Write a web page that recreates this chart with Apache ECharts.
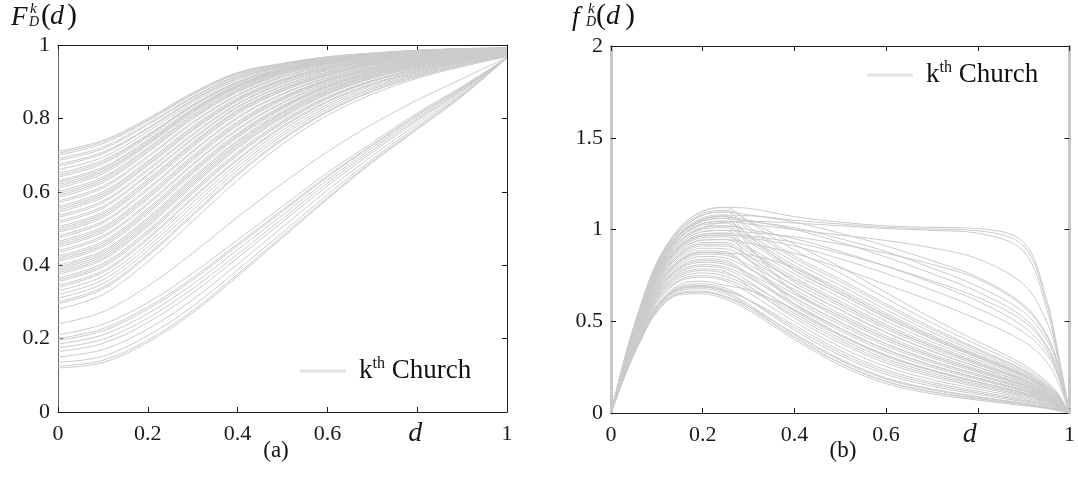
<!DOCTYPE html>
<html>
<head>
<meta charset="utf-8">
<script src="https://cdn.jsdelivr.net/npm/echarts@6/dist/echarts.min.js"></script>
<style>
  html, body { margin: 0; padding: 0; background: #fff; }
  #chart { width: 1078px; height: 477px; }
</style>
</head>
<body>
<div id="chart"></div>
<script>
// (a) cumulative curves, sampled at d = 0, 0.1 ... 1
const dA = [0, 0.1, 0.2, 0.3, 0.4, 0.5, 0.6, 0.7, 0.8, 0.9, 1];
const cdfCurves = [
  [.12, .135, .19, .27, .37, .475, .58, .68, .77, .86, .965],
  [.125, .141, .196, .276, .376, .48, .584, .683, .773, .862, .965],
  [.135, .152, .208, .288, .387, .489, .592, .689, .778, .865, .965],
  [.15, .17, .226, .306, .403, .504, .604, .698, .785, .869, .965],
  [.165, .187, .244, .324, .42, .518, .616, .707, .793, .874, .965],
  [.175, .198, .256, .336, .43, .527, .624, .713, .798, .877, .965],
  [.185, .21, .268, .348, .442, .537, .632, .719, .803, .88, .965],
  [.195, .221, .28, .36, .453, .546, .64, .725, .808, .883, .965],
  [.20, .227, .286, .366, .458, .551, .644, .728, .81, .884, .965],
  [.21, .239, .298, .378, .469, .56, .652, .734, .815, .887, .965],
  [.24, .273, .343, .433, .531, .623, .709, .784, .85, .908, .966],
  [.28, .32, .41, .52, .632, .73, .808, .866, .909, .941, .968],
  [.295, .335, .425, .535, .645, .741, .817, .873, .913, .944, .97],
  [.30, .34, .43, .54, .65, .745, .82, .875, .915, .945, .97],
  [.31, .35, .44, .55, .659, .753, .826, .88, .918, .947, .971],
  [.32, .36, .45, .56, .668, .76, .832, .884, .921, .949, .972],
  [.33, .37, .46, .57, .677, .768, .838, .889, .924, .951, .972],
  [.34, .38, .47, .58, .686, .775, .844, .893, .927, .953, .973],
  [.345, .385, .475, .585, .69, .779, .847, .895, .929, .954, .974],
  [.355, .395, .485, .595, .70, .786, .853, .90, .932, .955, .974],
  [.36, .40, .49, .60, .704, .79, .856, .902, .934, .956, .975],
  [.365, .405, .495, .605, .709, .794, .859, .904, .935, .957, .975],
  [.375, .415, .505, .615, .718, .801, .865, .909, .938, .959, .976],
  [.38, .42, .51, .62, .722, .805, .868, .911, .94, .96, .976],
  [.385, .425, .515, .625, .727, .809, .871, .913, .941, .961, .977],
  [.39, .43, .52, .63, .731, .813, .874, .916, .943, .962, .977],
  [.395, .435, .525, .635, .736, .816, .877, .918, .944, .963, .978],
  [.40, .44, .53, .64, .74, .82, .88, .92, .946, .964, .978],
  [.41, .45, .54, .649, .748, .826, .884, .923, .948, .965, .979],
  [.415, .455, .545, .654, .752, .829, .886, .924, .949, .966, .979],
  [.42, .46, .55, .658, .756, .832, .888, .926, .95, .967, .979],
  [.425, .465, .555, .663, .76, .835, .89, .927, .951, .968, .98],
  [.435, .475, .565, .672, .768, .841, .894, .93, .953, .969, .98],
  [.44, .48, .57, .676, .772, .844, .896, .931, .954, .97, .981],
  [.45, .49, .58, .685, .78, .85, .90, .934, .956, .971, .982],
  [.455, .495, .585, .69, .784, .853, .902, .935, .957, .972, .982],
  [.46, .50, .59, .694, .788, .856, .904, .937, .958, .972, .982],
  [.465, .505, .595, .699, .792, .859, .906, .938, .959, .973, .983],
  [.475, .515, .605, .708, .80, .865, .91, .941, .961, .975, .983],
  [.48, .52, .61, .712, .804, .868, .912, .942, .962, .975, .984],
  [.49, .53, .62, .721, .812, .874, .916, .945, .964, .977, .984],
  [.495, .535, .625, .726, .816, .877, .918, .947, .965, .977, .985],
  [.50, .54, .63, .73, .82, .88, .92, .948, .966, .978, .985],
  [.505, .545, .635, .734, .823, .882, .922, .949, .967, .978, .985],
  [.515, .555, .644, .742, .829, .887, .925, .951, .968, .979, .986],
  [.52, .56, .648, .746, .832, .889, .926, .952, .969, .98, .986],
  [.53, .57, .657, .754, .838, .894, .93, .954, .97, .98, .987],
  [.535, .575, .662, .758, .841, .896, .931, .955, .971, .981, .987],
  [.545, .585, .671, .766, .847, .90, .934, .957, .972, .982, .987],
  [.55, .59, .675, .77, .85, .903, .936, .958, .973, .982, .988],
  [.555, .595, .68, .774, .853, .905, .938, .959, .973, .982, .988],
  [.56, .60, .684, .778, .856, .907, .939, .96, .974, .983, .988],
  [.57, .61, .693, .786, .862, .912, .942, .962, .975, .984, .989],
  [.575, .615, .698, .79, .865, .914, .944, .963, .976, .984, .989],
  [.585, .625, .707, .798, .871, .918, .947, .965, .977, .985, .989],
  [.59, .63, .711, .802, .874, .921, .949, .966, .978, .985, .99],
  [.595, .635, .716, .806, .877, .923, .95, .967, .978, .986, .99],
  [.60, .64, .72, .81, .88, .925, .952, .968, .979, .986, .99],
  [.61, .649, .727, .815, .884, .927, .953, .969, .98, .986, .99],
  [.615, .654, .731, .818, .886, .928, .954, .969, .98, .987, .99],
  [.62, .658, .734, .821, .888, .93, .955, .97, .98, .987, .99],
  [.625, .663, .738, .824, .89, .931, .956, .97, .981, .987, .99],
  [.63, .667, .742, .826, .892, .932, .956, .971, .981, .987, .991],
  [.64, .676, .749, .832, .896, .934, .958, .972, .982, .987, .991],
  [.645, .681, .753, .835, .898, .935, .959, .972, .982, .988, .991],
  [.65, .686, .756, .837, .90, .936, .959, .973, .982, .988, .991],
  [.66, .694, .764, .843, .905, .939, .961, .973, .983, .988, .991],
  [.67, .704, .771, .848, .909, .941, .962, .974, .983, .989, .991],
  [.675, .708, .774, .851, .911, .942, .963, .975, .984, .989, .991],
  [.685, .717, .782, .856, .915, .944, .964, .976, .984, .989, .992],
  [.69, .722, .786, .859, .917, .946, .965, .976, .985, .989, .992],
  [.70, .731, .793, .865, .921, .948, .967, .977, .985, .99, .992],
  [.705, .736, .796, .867, .923, .949, .967, .978, .985, .99, .992],
  [.71, .74, .80, .87, .925, .95, .968, .978, .986, .99, .992]
];

// (b) density curves, sampled at uneven d steps
const dB = [0, 0.03, 0.06, 0.1, 0.15, 0.2, 0.25, 0.3, 0.4, 0.5, 0.6, 0.7, 0.8, 0.9, 0.95, 0.975, 1];
const pdfCurves = [
  [0, .20, .37, .55, .645, .65, .62, .56, .40, .26, .16, .105, .07, .04, .025, .012, 0],
  [0, .202, .374, .555, .652, .659, .63, .571, .413, .273, .172, .115, .078, .046, .029, .014, 0],
  [0, .203, .375, .558, .656, .664, .635, .582, .433, .294, .191, .131, .09, .054, .034, .018, 0],
  [0, .206, .381, .566, .667, .677, .65, .582, .413, .273, .172, .115, .078, .046, .029, .014, 0],
  [0, .208, .384, .572, .674, .686, .66, .593, .426, .287, .185, .126, .086, .051, .032, .017, 0],
  [0, .209, .386, .574, .678, .69, .665, .618, .478, .34, .234, .167, .118, .074, .047, .026, 0],
  [0, .21, .388, .577, .682, .695, .67, .615, .465, .327, .222, .157, .11, .068, .044, .024, 0],
  [0, .212, .392, .582, .689, .704, .68, .615, .452, .314, .21, .146, .102, .062, .04, .021, 0],
  [0, .215, .397, .59, .70, .718, .695, .67, .563, .428, .315, .234, .17, .11, .071, .042, 0],
  [0, .22, .406, .604, .718, .74, .72, .656, .498, .36, .253, .182, .13, .082, .053, .03, 0],
  [0, .222, .41, .609, .725, .749, .73, .676, .53, .394, .284, .208, .15, .096, .062, .036, 0],
  [0, .225, .415, .618, .736, .763, .745, .689, .543, .407, .296, .218, .158, .102, .066, .038, 0],
  [0, .228, .42, .626, .747, .776, .76, .706, .563, .428, .315, .234, .17, .11, .071, .042, 0],
  [0, .23, .424, .631, .755, .785, .77, .692, .517, .381, .272, .198, .142, .09, .058, .033, 0],
  [0, .233, .429, .639, .765, .799, .785, .717, .556, .421, .309, .229, .166, .107, .069, .04, 0],
  [0, .235, .433, .645, .773, .808, .795, .739, .595, .461, .346, .26, .19, .124, .081, .047, 0],
  [0, .238, .438, .653, .784, .821, .81, .761, .628, .495, .377, .285, .21, .138, .09, .053, 0],
  [0, .24, .442, .658, .791, .83, .82, .747, .582, .448, .334, .249, .182, .118, .077, .045, 0],
  [0, .242, .446, .663, .798, .839, .83, .758, .595, .461, .346, .26, .19, .124, .081, .047, 0],
  [0, .245, .451, .672, .809, .853, .845, .788, .647, .515, .396, .301, .222, .146, .095, .057, 0],
  [0, .248, .456, .68, .82, .866, .86, .808, .673, .541, .42, .321, .238, .158, .103, .062, 0],
  [0, .25, .46, .685, .828, .875, .87, .794, .628, .495, .377, .285, .21, .138, .09, .053, 0],
  [0, .25, .46, .685, .828, .875, .87, .863, .79, .662, .532, .414, .31, .208, .136, .083, 0],
  [0, .252, .464, .69, .835, .884, .88, .794, .615, .481, .365, .275, .202, .132, .086, .051, 0],
  [0, .255, .469, .699, .846, .898, .895, .835, .693, .562, .439, .337, .25, .166, .108, .065, 0],
  [0, .258, .474, .707, .857, .911, .91, .857, .725, .595, .47, .363, .27, .18, .118, .071, 0],
  [0, .26, .478, .712, .864, .92, .92, .835, .66, .528, .408, .311, .23, .152, .099, .059, 0],
  [0, .262, .482, .717, .871, .929, .93, .854, .693, .562, .439, .337, .25, .166, .108, .065, 0],
  [0, .265, .487, .726, .882, .943, .945, .876, .725, .595, .47, .363, .27, .18, .118, .071, 0],
  [0, .268, .492, .734, .893, .956, .96, .89, .738, .608, .482, .373, .278, .186, .121, .073, 0],
  [0, .27, .496, .739, .901, .965, .97, .904, .758, .629, .501, .388, .29, .194, .127, .077, 0],
  [0, .272, .50, .744, .908, .974, .98, .84, .595, .461, .346, .26, .19, .124, .081, .047, 0],
  [0, .275, .505, .753, .919, .988, .995, .898, .712, .582, .458, .352, .262, .174, .114, .069, 0],
  [0, .278, .51, .761, .93, 1.001, 1.01, .934, .777, .649, .52, .404, .302, .202, .132, .08, 0],
  [0, .28, .514, .766, .937, 1.01, 1.02, .945, .79, .662, .532, .414, .31, .208, .136, .083, 0],
  [0, .283, .519, .774, .948, 1.024, 1.035, .959, .803, .675, .544, .424, .318, .214, .14, .085, 0],
  [0, .285, .523, .78, .955, 1.033, 1.045, .973, .823, .696, .563, .44, .33, .222, .145, .089, 0],
  [0, .288, .528, .788, .966, 1.046, 1.06, .912, .66, .528, .408, .311, .23, .152, .099, .059, 0],
  [0, .29, .532, .793, .974, 1.055, 1.07, .967, .777, .649, .52, .404, .302, .202, .132, .08, 0],
  [0, .292, .536, .798, .981, 1.064, 1.08, 1.0, .842, .716, .582, .455, .342, .23, .151, .092, 0],
  [0, .295, .541, .807, .992, 1.078, 1.095, 1.014, .855, .729, .594, .466, .35, .236, .155, .095, 0],
  [0, .297, .545, .812, .999, 1.087, 1.105, 1.047, .92, .796, .656, .517, .39, .264, .173, .106, 0],
  [0, .30, .55, .82, 1.01, 1.10, 1.12, 1.041, .888, .763, .625, .491, .37, .25, .164, .101, 0],
  // slower tails
  [0, .285, .523, .78, .955, 1.033, 1.045, 1.03, 1.0, .97, .94, .90, .84, .70, .50, .30, 0],
  [0, .275, .505, .753, .919, .988, .995, .985, .96, .92, .87, .81, .73, .58, .42, .26, 0],
  [0, .29, .532, .793, .974, 1.055, 1.07, 1.05, 1.0, .93, .85, .76, .66, .52, .37, .23, 0],
  [0, .288, .528, .788, .966, 1.046, 1.06, 1.045, 1.01, .95, .88, .79, .69, .55, .40, .25, 0],
  [0, .28, .514, .766, .937, 1.01, 1.02, 1.0, .95, .88, .80, .71, .61, .47, .34, .21, 0],
  [0, .295, .541, .807, .992, 1.078, 1.095, 1.08, 1.04, .98, .91, .83, .74, .59, .43, .27, 0],
  [0, .272, .50, .744, .908, .974, .98, .965, .93, .87, .80, .72, .63, .50, .36, .22, 0],
  [0, .27, .496, .739, .901, .965, .97, .955, .91, .84, .76, .67, .57, .44, .32, .20, 0],
  [0, .265, .487, .726, .882, .943, .945, .925, .87, .79, .70, .61, .51, .39, .28, .17, 0],
  // plateau curves
  [0, .30, .55, .82, 1.01, 1.10, 1.12, 1.115, 1.07, 1.04, 1.02, 1.012, 1.005, .93, .62, .33, 0],
  [0, .29, .532, .793, .974, 1.055, 1.075, 1.075, 1.05, 1.03, 1.012, 1.003, .993, .91, .60, .32, 0],
  [0, .28, .514, .766, .937, 1.01, 1.04, 1.045, 1.035, 1.02, 1.005, .995, .98, .88, .57, .30, 0]
];

const xTickLabels = ['0', '0.2', '0.4', '0.6', 'd', '1'];
const yTickLabelsA = ['0', '0.2', '0.4', '0.6', '0.8', '1'];
const yTickLabelsB = ['0', '0.5', '1', '1.5', '2'];
const legendName = 'kth Church';

const serif = "'Liberation Serif', 'DejaVu Serif', serif";
const ink = '#1a1a1a';
const curveColor = '#cbcbcb';

function xAxes(grid, dPad) {
  const base = {
    gridIndex: grid, type: 'value', min: 0, max: 1, interval: 0.2,
    axisLine: { show: true, onZero: false, lineStyle: { color: ink, width: 1 } },
    axisTick: { show: true, inside: true, length: 5, lineStyle: { color: ink } },
    splitLine: { show: false }
  };
  return [
    Object.assign({}, base, {
      position: 'bottom',
      axisLabel: {
        show: true, margin: 11, color: ink, fontFamily: serif, fontSize: 22, lineHeight: 22,
        showMinLabel: true, showMaxLabel: true,
        formatter: v => {
          const s = xTickLabels[Math.round(v * 5)];
          return s === 'd' ? '{d|d}' : s;
        },
        rich: { d: { fontFamily: serif, fontStyle: 'italic', fontSize: 28, lineHeight: 22, color: ink, padding: [0, dPad, 0, 0] } }
      }
    }),
    Object.assign({}, base, { position: 'top', axisLabel: { show: false } })
  ];
}

function yAxes(grid, max, step, labels, leftColor, rightColor, edgeWidth) {
  const base = {
    gridIndex: grid, type: 'value', min: 0, max: max, interval: step,
    axisTick: { show: true, inside: true, length: 5, lineStyle: { color: ink } },
    splitLine: { show: false }
  };
  return [
    Object.assign({}, base, {
      position: 'left',
      axisLine: { show: true, onZero: false, lineStyle: { color: leftColor, width: edgeWidth } },
      axisLabel: {
        show: true, margin: 8, color: ink, fontFamily: serif, fontSize: 22,
        showMinLabel: true, showMaxLabel: true,
        formatter: v => labels[Math.round(v / step)]
      }
    }),
    Object.assign({}, base, {
      position: 'right',
      axisLine: { show: true, onZero: false, lineStyle: { color: rightColor, width: edgeWidth } },
      axisLabel: { show: false }
    })
  ];
}

function makeSeries(curves, xs, axisIdx) {
  return curves.map(c => ({
    name: legendName,
    type: 'line',
    xAxisIndex: axisIdx,
    yAxisIndex: axisIdx,
    data: xs.map((d, i) => [d, c[i]]),
    symbol: 'none',
    smooth: 0.35,
    silent: true,
    lineStyle: { color: curveColor, width: 1 },
    itemStyle: { color: '#e2e2e2' },
    emphasis: { disabled: true }
  }));
}

function legendAt(left, top) {
  return {
    data: [legendName], left: left, top: top, padding: 0,
    icon: 'rect', itemWidth: 46, itemHeight: 3,
    itemStyle: { color: '#e2e2e2' },
    selectedMode: false,
    formatter: () => '{k|k}{s|th}{c| Church}',
    textStyle: {
      rich: {
        k: { fontFamily: serif, fontSize: 27, color: '#111', lineHeight: 30, padding: [0, 0, 0, 8] },
        s: { fontFamily: serif, fontSize: 16, color: '#111', lineHeight: 20, verticalAlign: 'top' },
        c: { fontFamily: serif, fontSize: 27, color: '#111', lineHeight: 30 }
      }
    }
  };
}

function txt(x, y, text, size, italic, align) {
  return {
    type: 'text', x: x, y: y, silent: true,
    style: {
      text: text, fill: '#111',
      font: (italic ? 'italic ' : '') + size + 'px ' + serif,
      textAlign: align || 'left', align: align || 'left',
      textVerticalAlign: 'middle', verticalAlign: 'middle'
    }
  };
}

const chart = echarts.init(document.getElementById('chart'), null, { renderer: 'canvas' });
chart.setOption({
  animation: false,
  backgroundColor: '#fff',
  grid: [
    { left: 58, top: 45, width: 449, height: 367 },
    { left: 611, top: 46, width: 464, height: 367 }
  ],
  xAxis: xAxes(0, 4).concat(xAxes(1, 16)),
  yAxis: yAxes(0, 1, 0.2, yTickLabelsA, '#666', ink, 1).concat(yAxes(1, 2, 0.5, yTickLabelsB, '#c8c8c8', '#c8c8c8', 3)),
  legend: [legendAt(300, 356), legendAt(867, 60)],
  graphic: [
    txt(11, 18, 'F', 27, true),
    txt(30, 9, 'k', 15, true),
    txt(29, 22, 'D', 14, true),
    txt(41, 16, '(', 30, false),
    txt(50, 17, 'd', 28, true),
    txt(67, 16, ')', 30, false),
    txt(572, 18, 'f', 27, true),
    txt(588, 9, 'k', 15, true),
    txt(586, 22, 'D', 14, true),
    txt(596, 16, '(', 30, false),
    txt(606, 17, 'd', 28, true),
    txt(625, 16, ')', 30, false),
    txt(276, 451, '(a)', 23, false, 'center'),
    txt(843, 451, '(b)', 23, false, 'center')
  ],
  series: makeSeries(cdfCurves, dA, 0).concat(makeSeries(pdfCurves, dB, 2))
});
</script>
</body>
</html>
